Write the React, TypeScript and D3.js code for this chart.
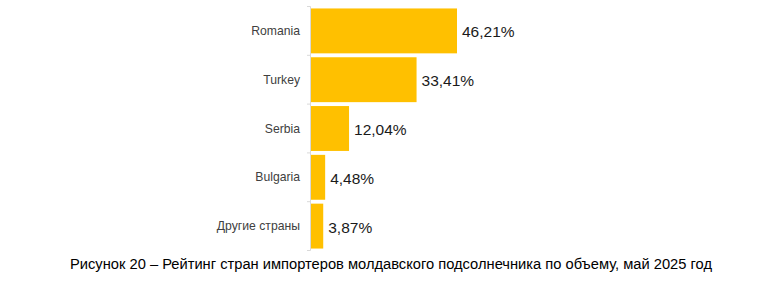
import React from "react";
import * as d3 from "d3";

const categories = ["Romania", "Turkey", "Serbia", "Bulgaria", "Другие страны"];
const shares = [46.21, 33.41, 12.04, 4.48, 3.87];
const valueLabels = ["46,21%", "33,41%", "12,04%", "4,48%", "3,87%"];
const caption = "Рисунок 20 – Рейтинг стран импортеров молдавского подсолнечника по объему, май 2025 год";

const W = 782;
const H = 281;
const axisX = 311;

export default function App() {
  const y = d3.scaleBand<string>().domain(categories).range([6.5, 250.5]).paddingInner(0.08).paddingOuter(0.04);
  const x = d3.scaleLinear().domain([0, 46.21]).range([axisX, 457]);
  const bounds = categories.map((_, i) => 6.5 + i * (244 / categories.length));
  bounds.push(250.5);
  return (
    <svg width={W} height={H} style={{ position: "absolute", left: 0, top: 0, background: "#fff" }}
      fontFamily="Arial, 'Liberation Sans', sans-serif">
      <line x1={axisX - 0.5} x2={axisX - 0.5} y1={6.5} y2={250.5} stroke="#d9d9d9" strokeWidth={1} />
      {bounds.map((b, i) => (
        <line key={"t" + i} x1={axisX - 4} x2={axisX - 0.5} y1={b} y2={b} stroke="#d9d9d9" />
      ))}
      {categories.map((c, i) => (
        <g key={c}>
          <rect x={x(0)} y={y(c)!} width={x(shares[i]) - x(0)} height={y.bandwidth()} fill="#FFC000" />
          <text x={300} y={y(c)! + y.bandwidth() / 2} textAnchor="end" dominantBaseline="central"
            fontSize={12.2} fill="#404040">{c}</text>
          <text x={x(shares[i]) + 5} y={y(c)! + y.bandwidth() / 2 + 1} dominantBaseline="central"
            fontSize={15.5} fill="#1a1a1a">{valueLabels[i]}</text>
        </g>
      ))}
      <text x={W / 2} y={269} textAnchor="middle" fontSize={14.7} fill="#000">{caption}</text>
    </svg>
  );
}
